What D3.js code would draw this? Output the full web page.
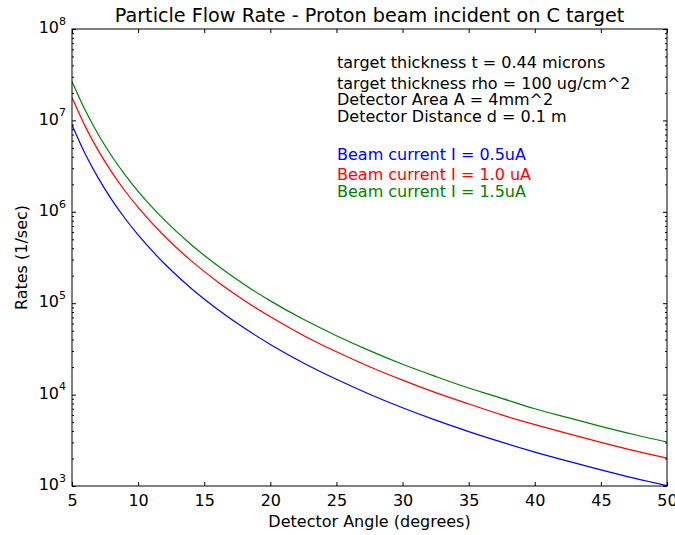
<!DOCTYPE html>
<html>
<head>
<meta charset="utf-8">
<script src="https://cdn.jsdelivr.net/npm/d3@7"></script>
<style>
  body { margin: 0; background: #fff; }
  text { font-family: "DejaVu Sans", sans-serif; }
</style>
</head>
<body>
<div id="chart-area"></div>
<script>
// detector angle (degrees)
const angles = [5, 6, 7, 8, 9, 10, 12, 14, 16, 18, 20, 22.5, 25, 27.5, 30, 32.5, 35, 37.5, 40, 42.5, 45, 47.5, 50]
// rates (1/sec) for each beam current
const rate05 = [8.9e6, 4.29e6, 2.32e6, 1.36e6, 8.5e5, 5.58e5, 2.70e5, 1.46e5, 8.6e4, 5.38e4, 3.54e4, 2.22e4, 1.47e4, 1.01e4, 7.18e3, 5.25e3, 3.94e3, 3.02e3, 2.35e3, 1.87e3, 1.50e3, 1.22e3, 1.01e3]
const rate10 = [1.78e7, 8.6e6, 4.64e6, 2.72e6, 1.70e6, 1.12e6, 5.4e5, 2.92e5, 1.72e5, 1.08e5, 7.1e4, 4.44e4, 2.94e4, 2.02e4, 1.44e4, 1.05e4, 7.9e3, 6.0e3, 4.7e3, 3.74e3, 3.0e3, 2.44e3, 2.02e3]
const rate15 = [2.67e7, 1.29e7, 6.96e6, 4.08e6, 2.55e6, 1.67e6, 8.1e5, 4.38e5, 2.58e5, 1.61e5, 1.06e5, 6.66e4, 4.41e4, 3.03e4, 2.15e4, 1.58e4, 1.18e4, 9.1e3, 7.0e3, 5.6e3, 4.5e3, 3.66e3, 3.03e3]

const xTicks = [5, 10, 15, 20, 25, 30, 35, 40, 45, 50]
const yTicks = [1e3, 1e4, 1e5, 1e6, 1e7, 1e8]

const infoLines = [
    "target thickness t = 0.44 microns",
    "target thickness rho = 100 ug/cm^2",
    "Detector Area A = 4mm^2",
    "Detector Distance d = 0.1 m"
]
const series = [
    { label: "Beam current I = 0.5uA", values: rate05, color: "#0000ff" },
    { label: "Beam current I = 1.0 uA", values: rate10, color: "#ff0000" },
    { label: "Beam current I = 1.5uA", values: rate15, color: "#008000" }
]

const MARGIN = { LEFT: 72, RIGHT: 8, TOP: 29, BOTTOM: 49 }
const WIDTH = 675 - MARGIN.LEFT - MARGIN.RIGHT
const HEIGHT = 535 - MARGIN.TOP - MARGIN.BOTTOM

const svg = d3.select("#chart-area").append("svg")
    .attr("width", 675)
    .attr("height", 535)

const g = svg.append("g")
    .attr("transform", `translate(${MARGIN.LEFT}, ${MARGIN.TOP})`)

const x = d3.scaleLinear().domain([5, 50]).range([0, WIDTH])
const y = d3.scaleLog().domain([1e3, 1e8]).range([HEIGHT, 0])

g.append("clipPath").attr("id", "clip")
    .append("rect").attr("width", WIDTH).attr("height", HEIGHT)

// lines
const line = d3.line()
    .x((d, i) => x(angles[i]))
    .y(d => y(d))
    .curve(d3.curveMonotoneX)

series.forEach(s => {
    g.append("path")
        .attr("clip-path", "url(#clip)")
        .attr("d", line(s.values))
        .attr("fill", "none")
        .attr("stroke", s.color)
        .attr("stroke-width", 1.2)
})

// minor log ticks
const minorTicks = y.ticks().filter(v => !yTicks.includes(v))

function styleAxis(sel) {
    sel.select(".domain").remove()
    sel.selectAll(".tick line").attr("stroke", "#000")
}

// bottom axis
g.append("g")
    .attr("transform", `translate(0, ${HEIGHT})`)
    .call(d3.axisBottom(x).tickValues(xTicks).tickSize(-4).tickPadding(9).tickFormat(d3.format("d")))
    .call(styleAxis)
    .selectAll("text")
        .attr("font-size", "16px")
        .attr("fill", "#000")
        .attr("font-family", "DejaVu Sans")

// top axis
g.append("g")
    .call(d3.axisTop(x).tickValues(xTicks).tickSize(-4).tickFormat(""))
    .call(styleAxis)

// left axis major
const yLeft = g.append("g")
    .call(d3.axisLeft(y).tickValues(yTicks).tickSize(-4).tickPadding(6).tickFormat(""))
    .call(styleAxis)

yLeft.selectAll(".tick text").each(function (d) {
    const t = d3.select(this)
        .attr("font-family", "DejaVu Sans")
        .attr("fill", "#000")
        .attr("dy", "0.36em")
    t.append("tspan").attr("font-size", "16px").text("10")
    t.append("tspan").attr("font-size", "11px").attr("dy", "-0.75em").text(Math.round(Math.log10(d)))
})

g.append("g")
    .call(d3.axisLeft(y).tickValues(minorTicks).tickSize(-2).tickFormat(""))
    .call(styleAxis)

// right axis
g.append("g")
    .attr("transform", `translate(${WIDTH}, 0)`)
    .call(d3.axisRight(y).tickValues(yTicks).tickSize(-4).tickFormat(""))
    .call(styleAxis)
g.append("g")
    .attr("transform", `translate(${WIDTH}, 0)`)
    .call(d3.axisRight(y).tickValues(minorTicks).tickSize(-2).tickFormat(""))
    .call(styleAxis)

// frame
g.append("rect")
    .attr("width", WIDTH)
    .attr("height", HEIGHT)
    .attr("fill", "none")
    .attr("stroke", "#000")
    .attr("stroke-width", 1)

// title
svg.append("text")
    .attr("x", MARGIN.LEFT + WIDTH / 2)
    .attr("y", 22)
    .attr("font-size", "19.2px")
    .attr("text-anchor", "middle")
    .text("Particle Flow Rate - Proton beam incident on C target")

// x label
svg.append("text")
    .attr("x", MARGIN.LEFT + WIDTH / 2)
    .attr("y", 527)
    .attr("font-size", "16px")
    .attr("text-anchor", "middle")
    .text("Detector Angle (degrees)")

// y label
svg.append("text")
    .attr("transform", "rotate(-90)")
    .attr("x", -(MARGIN.TOP + HEIGHT / 2))
    .attr("y", 27)
    .attr("font-size", "16px")
    .attr("text-anchor", "middle")
    .text("Rates (1/sec)")

// info text
const infoY = [68, 89, 105, 122]
infoLines.forEach((txt, i) => {
    svg.append("text")
        .attr("x", 337)
        .attr("y", infoY[i])
        .attr("font-size", "16px")
        .attr("fill", "#000")
        .text(txt)
})

const legendY = [160, 180, 197]
series.forEach((s, i) => {
    svg.append("text")
        .attr("x", 337)
        .attr("y", legendY[i])
        .attr("font-size", "16px")
        .attr("fill", s.color)
        .text(s.label)
})
</script>
</body>
</html>
